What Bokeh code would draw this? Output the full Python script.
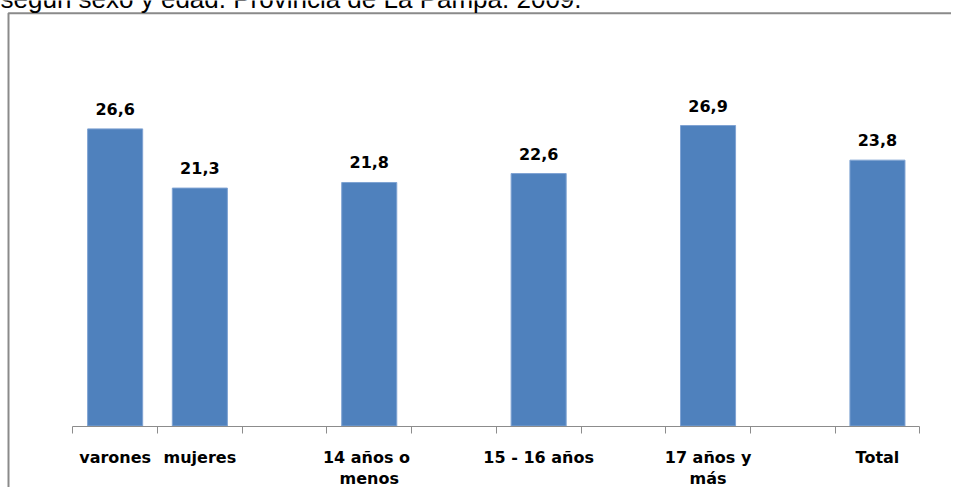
from bokeh.plotting import figure
from bokeh.models import Range1d, FixedTicker, ColumnDataSource, Label, LinearAxis
from bokeh.core.properties import value
from bokeh.embed import file_html
from bokeh.resources import INLINE

# ---- data ----
title_text = "según sexo y edad. Provincia de La Pampa. 2009."
categories = ["varones", "mujeres", "14 años  o\nmenos", "15 - 16 años", "17 años y\nmás", "Total"]
values = [26.6, 21.3, 21.8, 22.6, 26.9, 23.8]

# slot layout: groups separated by an empty slot
slots = [0, 1, 3, 5, 7, 9]
n_slots = 10

# ---- geometry (pixels) ----
W, H = 951, 487
px_per_x = 84.7
px_per_y = 11.17
x0_px = 72.3      # px of x=0
y0_px = 425.5     # px of y=0 (from top)

def dx(px):
    return (px - x0_px) / px_per_x

def dy(py):
    return (y0_px - py) / px_per_y

x_start, x_end = dx(0), dx(W)
y_start, y_end = dy(H), dy(0)

centers = [s + 0.5 for s in slots]
labels_txt = [f"{v:.1f}".replace(".", ",") for v in values]

src = ColumnDataSource(dict(x=centers, top=values, lab=labels_txt, cat=categories,
                            zero=[0] * len(values)))

p = figure(width=W, height=H, output_backend="svg", toolbar_location=None,
           x_range=Range1d(x_start, x_end), y_range=Range1d(y_start, y_end),
           min_border_left=0, min_border_right=0, min_border_top=0, min_border_bottom=0,
           x_axis_location=None, y_axis_location=None)
p.grid.visible = False
p.background_fill_color = "white"
p.border_fill_color = "white"
p.outline_line_color = None

# chart-area border (left and top edges visible; rest lies beyond the picture)
p.line(x=[dx(8), dx(8), dx(W + 20)], y=[dy(H + 20), dy(12.8), dy(12.8)],
       line_color="#8a8a8a", line_width=2)

p.vbar(x="x", top="top", width=0.65, bottom=0, source=src,
       fill_color="#4F81BD", line_color="#7FA3D3", line_width=1)

ax = LinearAxis(fixed_location=0, bounds=(0, n_slots),
                ticker=FixedTicker(ticks=list(range(n_slots + 1))))
ax.major_label_text_font_size = "0px"
ax.major_label_text_color = None
ax.axis_line_color = "#8c8c8c"
ax.axis_line_width = 1
ax.major_tick_line_color = "#8c8c8c"
ax.major_tick_out = 7
ax.major_tick_in = 0
ax.minor_tick_line_color = None
p.add_layout(ax, "below")

# value labels
p.text(x="x", y="top", text="lab", source=src, text_align="center",
       text_baseline="alphabetic", y_offset=-20,
       text_font=value("DejaVu Sans"), text_font_style="bold",
       text_font_size="16px", text_color="black")

# category labels
p.text(x="x", y="zero", text="cat", source=src, text_align="center",
       text_baseline="top", y_offset=22, text_line_height=1.12,
       text_font=value("DejaVu Sans"), text_font_style="bold",
       text_font_size="16px", text_color="black")

# cut-off title at the very top
p.add_layout(Label(x=dx(0), y=dy(-1.5),
                   text=title_text, text_font="Liberation Sans",
                   text_font_size="26px", text_baseline="alphabetic",
                   text_color="black"))

open("out.html", "w").write(file_html(p, INLINE))
